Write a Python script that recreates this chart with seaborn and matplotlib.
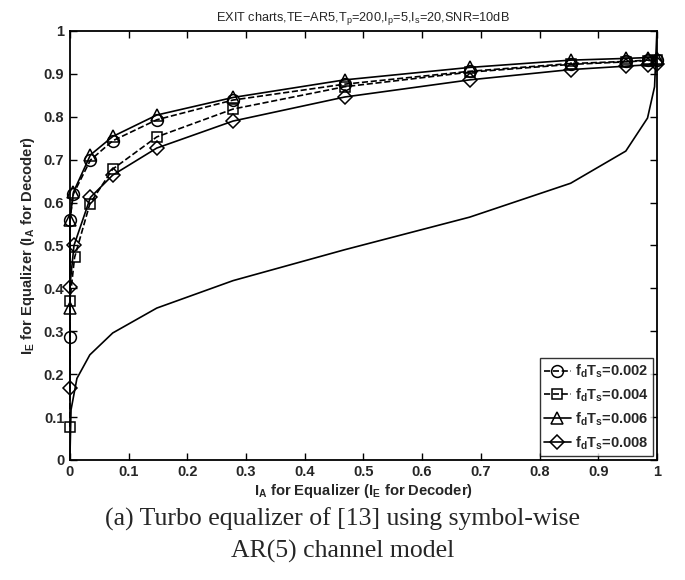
import numpy as np
import pandas as pd
import matplotlib
matplotlib.use("Agg")
import matplotlib.pyplot as plt
import seaborn as sns

# ---- data ----
x_eq = [0.0, 0.0, 0.006, 0.035, 0.073, 0.148, 0.278, 0.468, 0.681, 0.853, 0.947, 0.984, 1.0]
y_002 = [0.287, 0.559, 0.620, 0.699, 0.744, 0.793, 0.839, 0.876, 0.906, 0.924, 0.929, 0.932, 0.933]
y_004 = [0.077, 0.371, 0.472, 0.597, 0.678, 0.753, 0.818, 0.870, 0.904, 0.922, 0.928, 0.931, 0.932]
y_006 = [0.354, 0.559, 0.624, 0.711, 0.754, 0.804, 0.845, 0.886, 0.915, 0.932, 0.936, 0.938, 0.938]
y_008 = [0.167, 0.404, 0.500, 0.612, 0.664, 0.727, 0.790, 0.846, 0.886, 0.910, 0.918, 0.921, 0.924]
x_sq = [0.0, 0.0, 0.008, 0.034, 0.073, 0.148, 0.278, 0.468, 0.681, 0.853, 0.947, 0.984, 1.0]
x_di = [0.0, 0.0, 0.007, 0.035, 0.073, 0.148, 0.278, 0.468, 0.681, 0.853, 0.947, 0.984, 1.0]

x_dec = [0.0, 0.002, 0.012, 0.034, 0.073, 0.148, 0.278, 0.468, 0.681, 0.853, 0.947, 0.984, 0.996, 1.0]
y_dec = [0.0, 0.117, 0.190, 0.245, 0.296, 0.354, 0.418, 0.490, 0.566, 0.645, 0.720, 0.797, 0.870, 1.0]

labels = ["0.002", "0.004", "0.006", "0.008"]
ticks = [0, 0.1, 0.2, 0.3, 0.4, 0.5, 0.6, 0.7, 0.8, 0.9, 1]
tick_labels = ["0", "0.1", "0.2", "0.3", "0.4", "0.5", "0.6", "0.7", "0.8", "0.9", "1"]

sns.set_theme(style="white")
plt.rcParams["font.family"] = ["Liberation Sans", "DejaVu Sans"]
plt.rcParams["mathtext.fontset"] = "custom"
plt.rcParams["mathtext.rm"] = "Liberation Sans"
plt.rcParams["mathtext.bf"] = "Liberation Sans:bold"
plt.rcParams["mathtext.it"] = "Liberation Sans:italic"
plt.rcParams["mathtext.default"] = "regular"

fig = plt.figure(figsize=(6.85, 5.8), dpi=100)
ax = fig.add_axes([0.102, 0.207, 0.857, 0.7396])

lw = 1.2
ms = 8.5
common = dict(ax=ax, color="black", estimator=None, sort=False, linewidth=lw, clip_on=False)

sns.lineplot(x=x_dec, y=y_dec, **common)

series = [
    (x_eq, y_002, "o", "--", labels[0]),
    (x_sq, y_004, "s", "--", labels[1]),
    (x_eq, y_006, "^", "-", labels[2]),
    (x_di, y_008, "D", "-", labels[3]),
]
handles = []
for xs, ys, mk, ls, lab in series:
    sns.lineplot(x=xs, y=ys, marker=mk, linestyle=ls,
                 markersize={"o": 8.5, "s": 6.5, "^": 8.5, "D": 7.0}[mk],
                 markerfacecolor="none", markeredgecolor="black", markeredgewidth=1.1,
                 **common)
    handles.append(ax.lines[-1])

ax.set_xlim(0, 1)
ax.set_ylim(0, 1)
ax.set_xticks(ticks)
ax.set_yticks(ticks)
ax.set_xticklabels(tick_labels, fontweight="bold", fontsize=10.5)
ax.set_yticklabels(tick_labels, fontweight="bold", fontsize=10.5)
ax.tick_params(direction="in", length=5, width=1.0, top=True, right=True,
               bottom=True, left=True, color="black", pad=4)
for s in ax.spines.values():
    s.set_color("black")
    s.set_linewidth(1.3)
    s.set_zorder(5)

ax.set_xlabel(r"I$_\mathbf{A}$ for Equalizer (I$_\mathbf{E}$ for Decoder)",
              fontweight="bold", fontsize=10.6, labelpad=2)
ax.set_ylabel(r"I$_\mathbf{E}$ for Equalizer (I$_\mathbf{A}$ for Decoder)",
              fontweight="bold", fontsize=10.6, labelpad=5)
ax.set_title(r"EXIT charts,TE$-$AR5,T$_p$=200,I$_p$=5,I$_s$=20,SNR=10dB",
             fontsize=9.2, pad=7)

leg_labels = [r"f$_\mathbf{d}$T$_\mathbf{s}$=" + l for l in labels]
leg = ax.legend(handles, leg_labels, loc="lower right", frameon=True, fancybox=False,
                handlelength=1.8, handletextpad=0.3, borderpad=0.3, labelspacing=0.45,
                borderaxespad=0.25, prop={"weight": "bold", "size": 10.5})
leg.get_frame().set_edgecolor("black")
leg.get_frame().set_linewidth(1.0)
leg.set_zorder(6)

fig.text(0.5, 0.104, "(a) Turbo equalizer of [13] using symbol-wise", ha="center", va="center",
         fontsize=18.5, family=["Liberation Serif"])
fig.text(0.5, 0.050, "AR(5) channel model", ha="center", va="center",
         fontsize=18.5, family=["Liberation Serif"])

fig.savefig("out.png", dpi=100)
